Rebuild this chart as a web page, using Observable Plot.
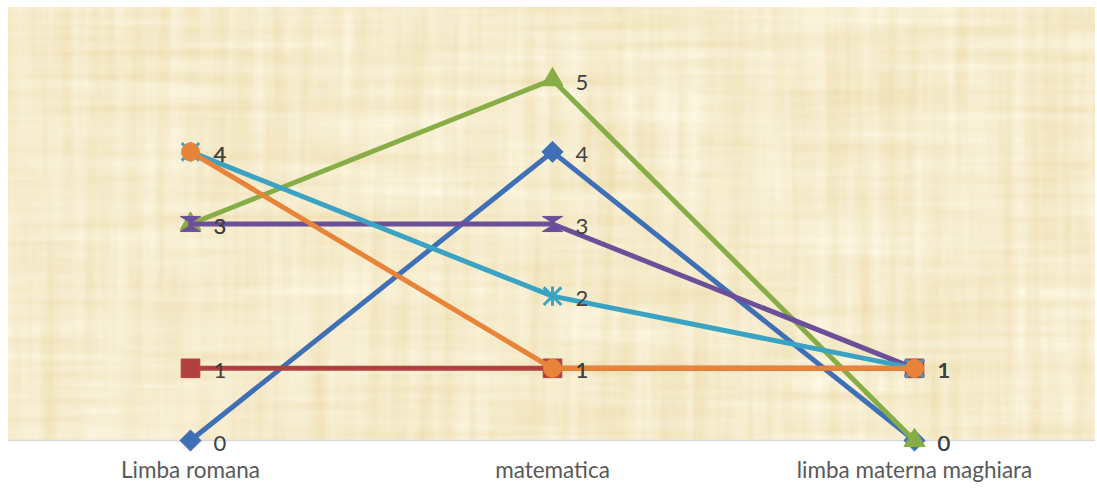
<!DOCTYPE html>
<html>
<head>
<meta charset="utf-8">
<script src="https://cdn.jsdelivr.net/npm/d3@7"></script>
<script src="https://cdn.jsdelivr.net/npm/@observablehq/plot@0.6"></script>
<style>
  html, body { margin: 0; padding: 0; background: #ffffff; }
  #chart svg { display: block; font-family: Lato, "Open Sans", sans-serif; }
</style>
</head>
<body>
<div id="chart"></div>
<script>
const categories = ["Limba romana", "matematica", "limba materna maghiara"];
const seriesNames = ["Seria 1", "Seria 2", "Seria 3", "Seria 4", "Seria 5", "Seria 6"];
const serie1 = [0, 4, 0];
const serie2 = [1, 1, 1];
const serie3 = [3, 5, 0];
const serie4 = [3, 3, 1];
const serie5 = [4, 2, 1];
const serie6 = [4, 1, 1];
const yMax = 6;

const allSeries = [serie1, serie2, serie3, serie4, serie5, serie6];
const colors = ["#3f6fb5", "#b0413e", "#87ad46", "#6b4f98", "#3aa3c4", "#e8843a"];

const hourglass = {
  draw(ctx, size) {
    const s = Math.sqrt(size) * 0.6;
    ctx.moveTo(-s, -s * 0.75); ctx.lineTo(s, -s * 0.75); ctx.lineTo(-s * 0.2, 0);
    ctx.lineTo(s, s * 0.75); ctx.lineTo(-s, s * 0.75); ctx.lineTo(s * 0.2, 0); ctx.closePath();
  }
};
const starX = {
  draw(ctx, size) {
    const s = Math.sqrt(size) * 0.55;
    ctx.moveTo(-s, -s); ctx.lineTo(s, s);
    ctx.moveTo(s, -s); ctx.lineTo(-s, s);
    ctx.moveTo(0, -s * 1.1); ctx.lineTo(0, s * 1.1);
  }
};
const symbols = ["diamond2", "square", "triangle", hourglass, starX, "circle"];
const radii = [9.5, 10.5, 7.8, 9.5, 9, 9];

const rows = allSeries.map((vals, i) =>
  categories.map((c, j) => ({serie: seriesNames[i], cat: c, value: vals[j]})));

function texture(index, scales, values, dimensions) {
  const {width, marginLeft, marginRight} = dimensions;
  const x0 = marginLeft, x1 = width - marginRight;
  const y0 = scales.y(yMax), y1 = scales.y(0);
  const g = d3.create("svg:g");
  const f = g.append("defs").append("filter").attr("id", "papyrus")
    .attr("x", 0).attr("y", 0).attr("width", "100%").attr("height", "100%");
  f.append("feTurbulence").attr("type", "fractalNoise").attr("baseFrequency", "0.004 0.08")
    .attr("numOctaves", 3).attr("seed", 4).attr("result", "h");
  f.append("feTurbulence").attr("type", "fractalNoise").attr("baseFrequency", "0.07 0.004")
    .attr("numOctaves", 3).attr("seed", 9).attr("result", "v");
  f.append("feComposite").attr("in", "h").attr("in2", "v").attr("operator", "arithmetic")
    .attr("k1", 0).attr("k2", 0.5).attr("k3", 0.5).attr("k4", 0).attr("result", "n");
  f.append("feColorMatrix").attr("in", "n").attr("type", "matrix")
    .attr("values", "0.2 0 0 0 0.82  0.34 0 0 0 0.665  0.55 0 0 0 0.33  0 0 0 0 1");
  g.append("rect").attr("x", x0).attr("y", y0).attr("width", x1 - x0).attr("height", y1 - y0)
    .attr("fill", "#ecd59f");
  g.append("rect").attr("x", x0).attr("y", y0).attr("width", x1 - x0).attr("height", y1 - y0)
    .attr("filter", "url(#papyrus)");
  return g.node();
}

const marks = [
  texture,
  Plot.ruleY([0], {stroke: "#d9d9d9", strokeWidth: 1.5})
];
rows.forEach((data, i) => {
  marks.push(Plot.line(data, {x: "cat", y: "value", stroke: colors[i], strokeWidth: 5}));
  const sym = symbols[i];
  const isStroke = sym === starX;
  marks.push(Plot.dot(data, {
    x: "cat", y: "value", symbol: sym, r: radii[i],
    fill: isStroke ? "none" : colors[i],
    stroke: colors[i], strokeWidth: isStroke ? 3 : 1
  }));
});
rows.forEach((data, i) => {
  marks.push(Plot.text(data, {
    x: "cat", y: "value", text: d => String(d.value), dx: 23, dy: 3,
    textAnchor: "start", fontSize: 22, fill: "#404040"
  }));
});

const chart = Plot.plot({
  width: 1097,
  height: 489,
  marginLeft: 8,
  marginRight: 2,
  marginTop: 7,
  marginBottom: 49,
  style: {background: "#ffffff", fontFamily: "Lato, 'Open Sans', sans-serif"},
  x: {type: "point", domain: categories, padding: 0.5, label: null, axis: null},
  y: {domain: [0, yMax], axis: null},
  marks: [
    ...marks,
    Plot.axisX({tickSize: 0, tickPadding: 22, fontSize: 22.5, fill: "#595959", label: null})
  ]
});

document.getElementById("chart").append(chart);
</script>
</body>
</html>
